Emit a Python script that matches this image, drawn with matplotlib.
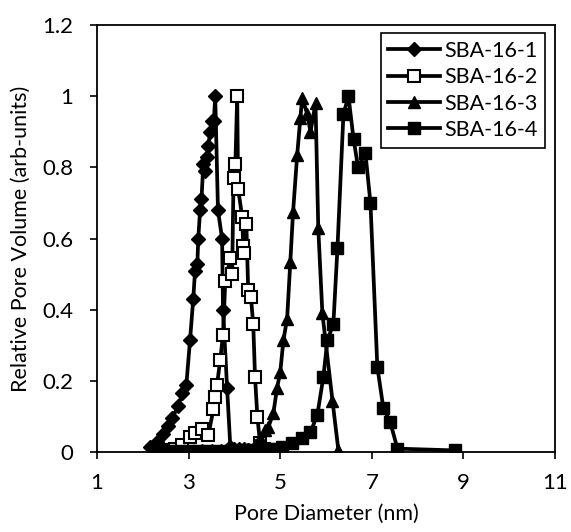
import matplotlib
matplotlib.use("Agg")
import matplotlib.pyplot as plt

plt.rcParams['font.family'] = ['Lato', 'DejaVu Sans']

# SBA-16-1 (filled diamonds)
x1 = [2.16, 2.30, 2.44, 2.55, 2.64, 2.77, 2.86, 2.95, 3.03, 3.10, 3.14, 3.19, 3.21, 3.25, 3.28,
      3.32, 3.36, 3.40, 3.43, 3.47, 3.51, 3.55, 3.58, 3.64, 3.73, 3.75, 3.84, 3.91,
      4.00, 4.10, 4.20, 4.30, 4.40, 4.50, 4.60]
y1 = [0.015, 0.03, 0.05, 0.075, 0.095, 0.13, 0.165, 0.19, 0.315, 0.43, 0.51, 0.53, 0.60, 0.68, 0.71,
      0.81, 0.79, 0.83, 0.86, 0.90, 0.93, 0.93, 1.00, 0.68, 0.60, 0.40, 0.18, 0.015,
      0.01, 0.008, 0.008, 0.006, 0.006, 0.005, 0.005]

# SBA-16-2 (open squares)
x2 = [2.40, 2.55, 2.70, 2.85, 3.03, 3.14, 3.30, 3.43, 3.54, 3.58, 3.62, 3.69, 3.75, 3.80,
      3.91, 3.95, 3.98, 4.02, 4.06, 4.08, 4.17, 4.19, 4.21, 4.26, 4.30, 4.36, 4.41, 4.45,
      4.50, 4.56, 4.65, 4.75, 4.85]
y2 = [0.005, 0.006, 0.01, 0.02, 0.043, 0.053, 0.066, 0.048, 0.12, 0.155, 0.19, 0.26, 0.33, 0.48,
      0.545, 0.50, 0.77, 0.81, 1.00, 0.74, 0.66, 0.58, 0.56, 0.64, 0.455, 0.435, 0.36, 0.21,
      0.10, 0.025, 0.01, 0.006, 0.005]

# SBA-16-3 (filled triangles)
x3 = [2.30, 2.50, 2.70, 2.90, 3.10, 3.30, 3.50, 3.70, 3.90, 4.10, 4.30, 4.45, 4.55, 4.67,
      4.74, 4.85, 4.93, 5.00, 5.07, 5.15, 5.22, 5.28, 5.37, 5.44, 5.48, 5.59, 5.66, 5.77,
      5.83, 5.92, 6.14, 6.27]
y3 = [0.003, 0.003, 0.004, 0.004, 0.004, 0.005, 0.005, 0.005, 0.005, 0.006, 0.01, 0.02, 0.04, 0.062,
      0.07, 0.11, 0.18, 0.225, 0.315, 0.375, 0.535, 0.675, 0.835, 0.94, 0.995, 0.95, 0.90, 0.98,
      0.63, 0.39, 0.145, 0.005]

# SBA-16-4 (filled squares)
x4 = [2.40, 2.60, 2.80, 3.00, 3.20, 3.40, 3.60, 3.80, 4.00, 4.20, 4.40, 4.60, 4.80, 5.04,
      5.26, 5.48, 5.66, 5.81, 5.94, 6.03, 6.16, 6.25, 6.38, 6.49, 6.60, 6.70, 6.86, 6.97,
      7.12, 7.25, 7.40, 7.56, 8.82]
y4 = [0.002, 0.002, 0.002, 0.003, 0.003, 0.003, 0.004, 0.004, 0.004, 0.005, 0.006, 0.008, 0.01, 0.015,
      0.025, 0.04, 0.056, 0.105, 0.21, 0.315, 0.36, 0.575, 0.95, 1.00, 0.88, 0.80, 0.84, 0.70,
      0.24, 0.125, 0.085, 0.01, 0.005]

labels = ['SBA-16-1', 'SBA-16-2', 'SBA-16-3', 'SBA-16-4']
xticks = [1, 3, 5, 7, 9, 11]
yticks = [0, 0.2, 0.4, 0.6, 0.8, 1, 1.2]
yticklabels = ['0', '0.2', '0.4', '0.6', '0.8', '1', '1.2']

fig = plt.figure(figsize=(5.71, 5.32), dpi=100)
ax = fig.add_axes([0.170, 0.150, 0.802, 0.803])

lw = 2.7
ax.plot(x1, y1, color='black', lw=lw, marker='D', ms=7.5, mfc='black', mec='black', label=labels[0])
ax.plot(x2, y2, color='black', lw=lw, marker='s', ms=8.5, mfc='white', mec='black', mew=1.5, label=labels[1])
ax.plot(x3, y3, color='black', lw=lw, marker='^', ms=9, mfc='black', mec='black', label=labels[2])
ax.plot(x4, y4, color='black', lw=lw, marker='s', ms=8.5, mfc='black', mec='black', label=labels[3])

ax.set_xlim(1, 11)
ax.set_ylim(0, 1.2)
ax.set_xticks(xticks)
ax.set_xticklabels([str(t) for t in xticks])
ax.set_yticks(yticks)
ax.set_yticklabels(yticklabels)
ax.tick_params(direction='out', length=5, width=1.2, labelsize=16, colors='black')
ax.tick_params(axis='y', pad=12)
ax.tick_params(axis='x', pad=10)
for s in ax.spines.values():
    s.set_linewidth(1.3)
    s.set_color('black')

ax.set_xlabel('Pore Diameter (nm)', fontsize=15.5, labelpad=8)
ax.set_ylabel('Relative Pore Volume (arb-units)', fontsize=15.5, labelpad=8)

leg = ax.legend(loc='upper right', bbox_to_anchor=(0.978, 0.981), borderaxespad=0,
                fontsize=15.5, handlelength=2.4, handletextpad=0.2, labelspacing=0.3,
                fancybox=False, framealpha=1, edgecolor='black', borderpad=0.35)
leg.get_frame().set_linewidth(1.2)

fig.savefig('out.png', dpi=100)
